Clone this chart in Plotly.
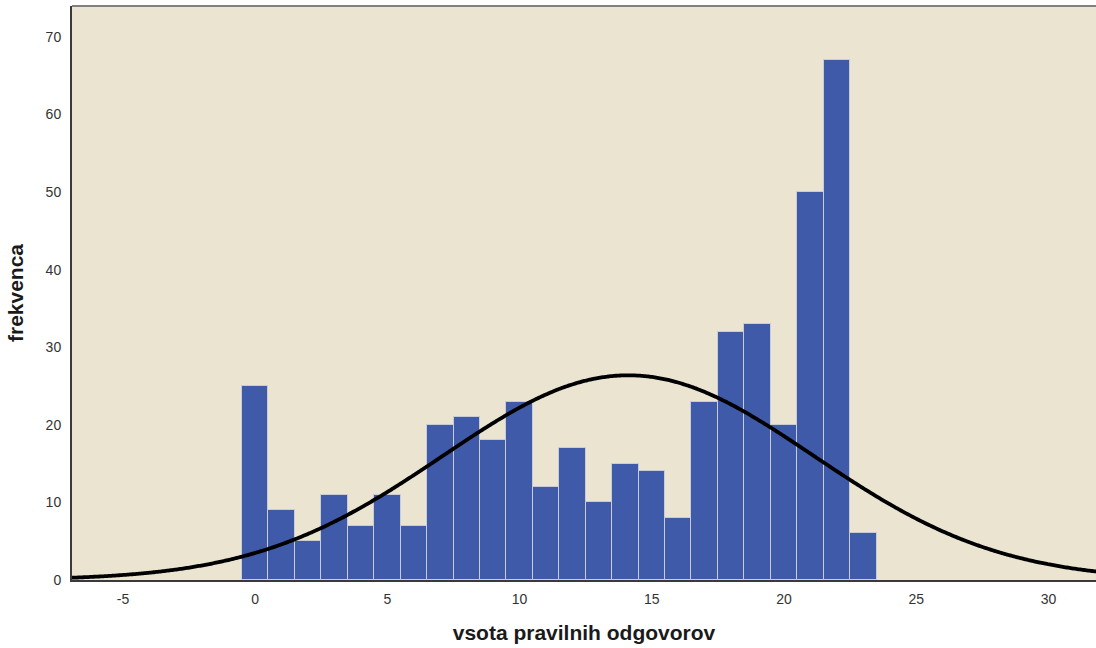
import numpy as np
import plotly.graph_objects as go

scores = list(range(0, 24))
freq = [25, 9, 5, 11, 7, 11, 7, 20, 21, 18, 23, 12, 17, 10, 15, 14, 8, 23, 32, 33, 20, 50, 67, 6]
x_ticks = [-5, 0, 5, 10, 15, 20, 25, 30]
x_tick_text = ["-5", "0", "5", "10", "15", "20", "25", "30"]
y_ticks = [0, 10, 20, 30, 40, 50, 60, 70]

# normal curve from the data's mean and std (as SPSS does)
s = np.array(scores, dtype=float)
f = np.array(freq, dtype=float)
n = f.sum()
mean = (s * f).sum() / n
std = np.sqrt(((s - mean) ** 2 * f).sum() / (n - 1))
xc = np.linspace(-7.5, 32.5, 400)
yc = n * 1.0 / (std * np.sqrt(2 * np.pi)) * np.exp(-0.5 * ((xc - mean) / std) ** 2)

fig = go.Figure()
fig.add_trace(go.Bar(
    x=scores, y=freq, width=1.0,
    marker=dict(color="#3F5AA8", line=dict(color="#C9CCD6", width=1)),
    showlegend=False, hoverinfo="x+y",
))
fig.add_trace(go.Scatter(
    x=xc, y=yc, mode="lines",
    line=dict(color="#000000", width=3.8, shape="spline"),
    showlegend=False, hoverinfo="skip",
))

fig.update_layout(
    width=1096, height=648,
    margin=dict(l=72, r=0, t=6, b=68),
    paper_bgcolor="#FFFFFF",
    plot_bgcolor="#EAE4D0",
    font=dict(family="Liberation Sans, Arial, sans-serif", size=14, color="#333333"),
    bargap=0,
    xaxis=dict(
        range=[-6.93, 31.8], tickvals=x_ticks, ticktext=x_tick_text, ticks="",
        showgrid=False, zeroline=False, automargin=False,
        showline=True, linecolor="#3A3A3A", linewidth=2, ticklabelstandoff=5,
        tickfont=dict(size=14, color="#333333"),
        title=dict(text="<b>vsota pravilnih odgovorov</b>",
                   font=dict(size=21, color="#1A1A1A"), standoff=20),
    ),
    yaxis=dict(
        range=[0, 74], tickvals=y_ticks, ticks="", showgrid=False, zeroline=False,
        automargin=False, ticklabelstandoff=6,
        showline=True, linecolor="#3A3A3A", linewidth=2,
        tickfont=dict(size=14, color="#333333"),
        title=dict(text="<b>frekvenca</b>", font=dict(size=21, color="#1A1A1A"), standoff=16),
    ),
    shapes=[dict(type="line", xref="paper", yref="paper", x0=0, x1=1, y0=1, y1=1,
                 line=dict(color="#808080", width=2))],
)

fig.write_html("out.html", config={"displayModeBar": False},
               post_script="document.body.style.margin='0';")
